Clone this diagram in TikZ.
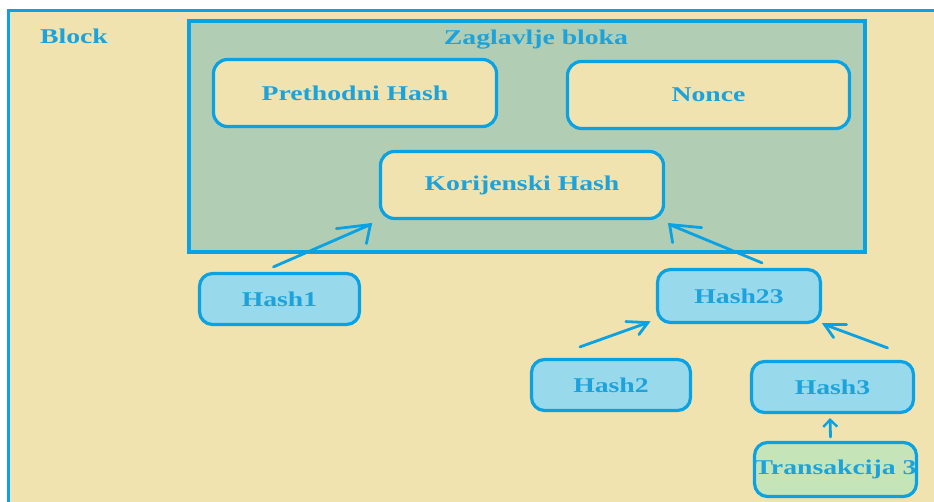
\documentclass[tikz,border=0pt]{standalone}
\usepackage{fontspec}
\newfontfamily\lblfont{Liberation Serif}[FakeStretch=1.32]
\usetikzlibrary{arrows.meta,calc}
\definecolor{bordc}{HTML}{0AA2E2}
\definecolor{txtc}{HTML}{1DA3DC}
\definecolor{beige}{HTML}{F0E3B0}
\definecolor{hdrfill}{HTML}{B1CEB5}
\definecolor{hashfill}{HTML}{99D9EC}
\definecolor{trfill}{HTML}{C5E5B9}
\tikzset{
  lbl/.style={font=\lblfont\bfseries\fontsize{21}{25}\selectfont, text=txtc},
  fieldbox/.style={lbl, draw=bordc, line width=3.2pt, rounded corners=14pt, fill=beige},
  hashbox/.style={lbl, draw=bordc, line width=3.2pt, rounded corners=13pt, fill=hashfill},
  trbox/.style={lbl, draw=bordc, line width=3.2pt, rounded corners=13pt, fill=trfill},
  arrline/.style={draw=bordc, line width=2.8pt, line cap=round, line join=miter},
  arr/.style={arrline, -{Straight Barb[length=7pt,width=14pt,line width=2.4pt]}},
}
\begin{document}
\begin{tikzpicture}[x=1pt,y=-1pt]
\clip (0,0) rectangle (934,502);
\fill[white] (0,0) rectangle (934,502);
% outer block
\draw[draw=bordc, line width=3pt, fill=beige] (8,11) rectangle (960,530);
\node[lbl] (blocklbl) at (74,36) {Block};
% header
\draw[draw=bordc, line width=3.5pt, fill=hdrfill] (189,21) rectangle (865,252);
\node[lbl] (hdrlbl) at (536,40) {Zaglavlje bloka};
\node[fieldbox, minimum width=283pt, minimum height=67pt] (prev) at (355,93) {Prethodni Hash};
\node[fieldbox, minimum width=282pt, minimum height=67pt] (nonce) at (708.5,95) {Nonce};
\node[fieldbox, minimum width=283pt, minimum height=67pt] (kor) at (522,185) {Korijenski Hash};
% hashes
\node[hashbox, minimum width=160pt, minimum height=51pt] (h1) at (279.5,299) {Hash1};
\node[hashbox, minimum width=163pt, minimum height=53pt] (h23) at (739,296) {Hash23};
\node[hashbox, minimum width=159pt, minimum height=51pt] (h2) at (611,385) {Hash2};
\node[hashbox, minimum width=162pt, minimum height=51pt] (h3) at (832.5,387) {Hash3};
\node[trbox, minimum width=160pt, minimum height=54pt, inner xsep=0pt] (tr) at (835.5,469.5) {Transakcija 3};
% arrow end points
\coordinate (t1) at ($(kor.south west)+(-8.5,4.5)$);
\coordinate (t2) at ($(kor.south east)+(4.5,4.5)$);
\coordinate (t3) at ($(h23.south west)+(-8,-1.5)$);
\coordinate (t4) at ($(h23.south east)+(2.5,0.5)$);
\coordinate (s1) at ($(h1.north)+(-6,-5)$);
\coordinate (s2) at ($(h23.north)+(23,-5)$);
\coordinate (s3) at ($(h2.north)+(-31,-11)$);
\coordinate (s4) at ($(h3.north)+(55,-12)$);
% arrows
\draw[arrline] (s1) -- (t1);
\draw[arrline] ($(t1)+(-34,4)$) -- (t1) -- ($(t1)+(-4,19)$);
\draw[arrline] (s2) -- (t2);
\draw[arrline] ($(t2)+(32,3)$) -- (t2) -- ($(t2)+(3,18)$);
\draw[arrline] (s3) -- (t3);
\draw[arrline] ($(t3)+(-22,-1)$) -- (t3) -- ($(t3)+(-9,12)$);
\draw[arrline] (s4) -- (t4);
\draw[arrline] ($(t4)+(22,0)$) -- (t4) -- ($(t4)+(9,13)$);
\draw[arr] ($(tr.north)+(-5,-4)$) -- ($(h3.south)+(-2.5,4)$);
\end{tikzpicture}
\end{document}
